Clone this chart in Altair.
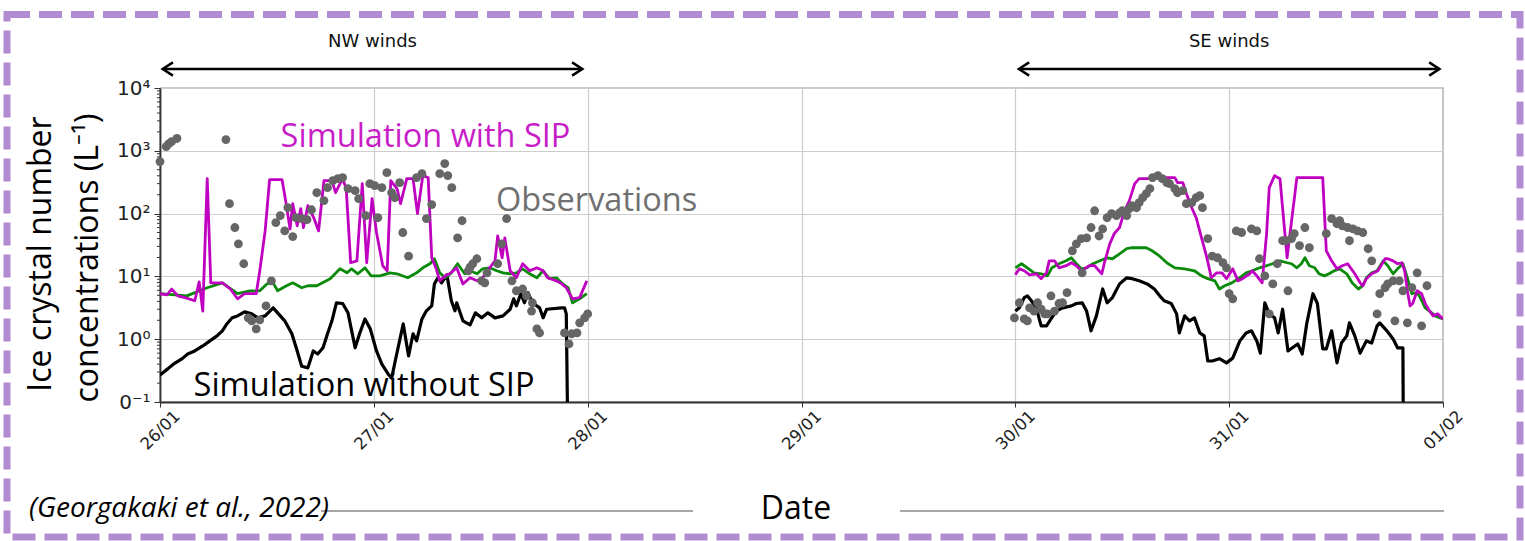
import altair as alt
import pandas as pd

# ---- axes -------------------------------------------------------------
day_ticks = [0, 24, 48, 72, 96, 120, 144]          # hours since 26/01 00:00
day_labels = ["26/01", "27/01", "28/01", "29/01", "30/01", "31/01", "01/02"]
decade_ticks = [0.1, 1, 10, 100, 1000, 10000]
decade_labels = ["0⁻¹", "10⁰", "10¹", "10²", "10³", "10⁴"]
minor_ticks = [k * 10.0 ** e for e in range(-1, 4) for k in range(2, 10)]

# ---- ice crystal number concentration (L-1), (hour, value) -------------
# simulation without SIP; the last vertex of each segment falls to zero
without_sip_a = [
    (0, 0.27), (0.9, 0.34), (1.5, 0.40), (2.5, 0.49), (3.1, 0.58), (3.9, 0.65),
    (4.8, 0.78), (5.6, 0.94), (6.4, 1.13), (7.0, 1.36), (7.5, 1.75), (8.1, 2.19),
    (8.7, 2.35), (9.5, 2.72), (10.3, 2.53), (11.0, 2.19), (11.8, 2.35), (12.7, 3.16),
    (13.2, 2.63), (14.0, 1.96), (14.8, 1.22), (15.4, 0.65), (15.9, 0.37), (16.6, 0.35),
    (17.2, 0.65), (17.7, 0.58), (18.3, 0.73), (18.8, 1.22), (19.3, 1.96), (19.8, 3.8),
    (20.5, 3.7), (21.1, 2.63), (21.9, 0.73), (22.4, 1.22), (23.0, 2.1), (23.6, 1.46),
    (24.3, 0.65), (24.9, 0.40), (25.6, 0.28), (26.0, 0.24), (26.4, 0.45), (27.3, 1.75),
    (27.9, 0.54), (28.4, 1.22), (28.8, 0.94), (29.4, 2.1), (29.9, 2.83), (30.5, 3.4),
    (30.8, 7.6), (31.2, 9.5), (31.6, 7.9), (32.2, 10.6), (32.7, 4.1), (33.1, 2.83),
    (33.3, 3.8), (34.0, 1.96), (34.8, 1.69), (35.4, 2.63), (36.1, 2.19), (36.8, 2.63),
    (37.6, 2.19), (38.5, 2.35), (39.3, 3.0), (39.7, 4.4), (40.0, 3.4), (40.5, 5.3),
    (40.9, 3.8), (41.3, 5.5), (41.8, 3.8), (42.6, 3.16), (43.0, 2.19), (43.4, 3.0),
    (45.1, 3.16), (45.4, 3.16), (45.6, 2.53), (45.9, 0.001),
]
without_sip_b = [
    (96.0, 2.8), (96.45, 3.16), (97.0, 4.6), (97.35, 4.9), (97.8, 4.1), (98.35, 3.16),
    (98.9, 1.63), (99.5, 1.63), (100.0, 2.1), (100.6, 2.8), (101.3, 3.16), (102.3, 3.4),
    (102.85, 3.7), (103.5, 3.8), (104.0, 2.8), (104.5, 1.36), (105.1, 2.35), (105.8, 6.3),
    (106.3, 3.8), (106.9, 4.6), (107.7, 7.6), (108.5, 9.5), (109.1, 9.2), (109.9, 8.5),
    (110.8, 7.6), (111.6, 6.3), (112.2, 4.9), (112.7, 4.1), (113.5, 3.7), (114.1, 2.53),
    (114.4, 1.26), (115.0, 2.35), (115.55, 1.96), (116.1, 2.19), (116.7, 1.26), (117.2, 1.13),
    (117.6, 0.45), (118.1, 0.45), (118.9, 0.49), (119.7, 0.42), (120.4, 0.50), (121.2, 0.94),
    (121.9, 1.26), (122.5, 1.36), (123.1, 0.94), (123.5, 0.60), (124.0, 3.8), (124.5, 2.53),
    (125.1, 2.19), (125.5, 1.26), (126.0, 3.0), (126.6, 0.65), (127.1, 0.73), (127.7, 0.84),
    (128.2, 0.58), (128.7, 1.75), (129.4, 5.3), (129.9, 3.7), (130.5, 0.70), (130.9, 0.70),
    (131.5, 1.36), (132.1, 0.42), (132.6, 0.87), (133.2, 1.13), (133.5, 1.82), (134.1, 1.13),
    (134.7, 0.60), (135.4, 0.94), (136.0, 0.87), (136.6, 1.63), (136.9, 1.82), (137.7, 1.36),
    (138.4, 1.01), (138.9, 0.73), (139.5, 0.73), (139.6, 0.001),
]

# simulation with SIP
with_sip_a = [
    (0, 5.3), (0.8, 5.1), (1.3, 6.3), (2.0, 4.9), (2.8, 4.6), (3.9, 4.1), (4.4, 8.2),
    (4.8, 2.8), (5.3, 360), (5.7, 7.9), (7.0, 7.9), (7.9, 6.3), (8.7, 4.4), (9.5, 5.3),
    (10.8, 5.3), (11.2, 12.3), (11.8, 53), (12.3, 347), (13.7, 347), (14.1, 161),
    (14.6, 57), (14.9, 144), (15.4, 64), (15.8, 120), (16.1, 60), (16.6, 134), (17.3, 83),
    (17.8, 53), (18.4, 335), (19.3, 335), (19.7, 215), (20.5, 360), (20.9, 250),
    (21.4, 16.5), (22.1, 17.7), (22.7, 300), (23.2, 16.5), (23.8, 173), (24.3, 50),
    (25.0, 14.8), (25.5, 12.3), (25.9, 335), (26.6, 250), (27.0, 144), (27.7, 360),
    (28.4, 360), (28.9, 100), (29.5, 402), (30.1, 374), (30.5, 19.8), (31.0, 13.2),
    (31.4, 8.5), (32.0, 10.2), (32.5, 11.0), (33.3, 13.7), (34.0, 7.6), (34.8, 9.5),
    (35.6, 8.5), (36.2, 9.5), (37.0, 13.7), (37.6, 17.7), (37.9, 44), (38.4, 19.8),
    (38.7, 41), (39.3, 12.3), (40.0, 9.5), (40.7, 15.9), (41.5, 12.3), (42.3, 13.7),
    (43.0, 12.3), (43.5, 9.5), (44.5, 8.5), (45.1, 7.6), (45.6, 6.6), (46.3, 4.4),
    (47.1, 4.6), (47.9, 8.5),
]
with_sip_b = [
    (96.0, 10.6), (96.45, 13.2), (97.0, 12.3), (97.6, 10.6), (98.35, 11.0), (98.9, 9.2),
    (99.5, 11.4), (99.8, 17.7), (100.4, 17.7), (100.9, 13.7), (101.7, 14.8), (102.3, 16.5),
    (102.85, 14.8), (103.4, 12.3), (103.75, 13.2), (104.3, 14.8), (104.9, 14.8), (105.7, 11.0),
    (106.0, 16.5), (106.6, 33), (107.1, 48), (107.7, 60), (108.25, 111), (108.8, 161),
    (109.4, 300), (109.9, 360), (110.8, 360), (111.6, 374), (112.5, 374), (113.9, 374),
    (114.2, 311), (114.8, 311), (115.2, 208), (115.8, 124), (116.3, 86), (116.9, 41),
    (117.5, 19.8), (118.0, 9.5), (118.6, 11.4), (119.2, 11.4), (119.7, 9.2), (120.4, 13.2),
    (121.0, 8.5), (121.5, 9.2), (122.3, 11.0), (122.6, 12.3), (123.1, 10.2), (123.7, 7.9),
    (124.2, 48), (124.5, 259), (125.1, 402), (125.7, 360), (126.5, 19.8), (127.6, 374),
    (128.7, 374), (129.8, 374), (130.5, 374), (130.9, 25.6), (131.5, 17.7), (132.1, 13.2),
    (132.7, 14.8), (133.3, 15.9), (134.1, 11.0), (134.7, 7.9), (135.0, 7.1), (135.4, 9.2),
    (136.0, 11.0), (136.7, 12.3), (137.5, 19.1), (137.8, 19.1), (138.4, 17.7), (138.9, 15.9),
    (139.4, 16.5), (139.7, 12.3), (140.0, 5.9), (140.3, 3.4), (140.6, 3.7), (141.1, 5.9),
    (141.6, 5.3), (142.0, 3.7), (142.5, 2.8), (142.9, 2.35), (143.4, 2.53), (144.0, 2.1),
]

# third simulation (green)
green_a = [
    (0, 5.3), (3.0, 4.9), (5.3, 6.6), (7.0, 7.9), (8.7, 5.3), (10.1, 5.9), (11.2, 5.9),
    (12.0, 7.6), (12.7, 7.9), (13.2, 5.9), (14.2, 7.1), (14.9, 7.9), (15.9, 6.6),
    (16.6, 7.1), (17.6, 7.1), (19.1, 9.2), (20.2, 13.2), (21.0, 11.4), (21.5, 13.2),
    (22.2, 11.0), (23.0, 13.7), (23.7, 10.2), (24.7, 10.2), (25.8, 11.4), (26.6, 11.0),
    (27.8, 9.5), (28.8, 11.4), (29.5, 13.7), (30.3, 15.9), (30.8, 19.1), (31.4, 11.4),
    (32.0, 9.5), (32.7, 11.4), (33.4, 15.9), (34.2, 11.0), (34.8, 12.3), (35.6, 11.0),
    (36.2, 13.2), (37.0, 13.7), (37.8, 12.3), (38.5, 11.4), (39.3, 11.0), (40.0, 11.4),
    (40.7, 13.2), (41.5, 11.0), (42.3, 9.5), (43.0, 12.3), (43.7, 9.2), (44.5, 9.5),
    (45.2, 7.6), (45.8, 6.6), (46.3, 3.8), (47.1, 4.4), (47.9, 5.3),
]
green_b = [
    (96.0, 13.7), (96.7, 15.9), (97.35, 13.7), (98.1, 11.4), (98.9, 11.0), (99.6, 10.2),
    (100.1, 13.7), (100.9, 15.9), (101.7, 17.7), (102.3, 19.8), (102.85, 15.9), (103.4, 13.2),
    (104.0, 13.7), (104.7, 15.9), (105.5, 17.7), (106.3, 19.8), (106.9, 19.1), (107.7, 22.9),
    (108.5, 27.6), (109.1, 28.6), (110.1, 28.6), (110.7, 28.6), (111.35, 25.6), (112.2, 21),
    (113.0, 16.5), (113.9, 13.7), (115.0, 13.2), (116.1, 12.3), (116.9, 10.2), (117.6, 9.2),
    (118.4, 8.5), (118.9, 6.3), (119.5, 7.1), (120.3, 7.9), (121.2, 9.5), (121.9, 11.4),
    (122.6, 12.3), (123.4, 13.7), (124.2, 14.8), (124.85, 15.9), (125.7, 17.7), (126.5, 16.5),
    (127.0, 15.9), (127.6, 13.7), (128.1, 15.9), (128.5, 19.8), (129.0, 14.8), (129.6, 13.7),
    (130.1, 11.0), (130.7, 10.2), (131.2, 11.0), (131.8, 12.3), (132.4, 13.2), (133.2, 11.0),
    (133.8, 7.9), (134.5, 6.3), (135.0, 7.1), (135.4, 9.5), (136.0, 11.4), (136.6, 12.3),
    (137.3, 17.7), (137.8, 14.8), (138.4, 11.0), (138.9, 13.2), (139.5, 15.9), (140.0, 9.5),
    (140.5, 5.3), (141.1, 5.5), (141.45, 4.6), (142.0, 3.16), (142.5, 2.8), (143.1, 2.35),
    (144.0, 2.1),
]

# observations
observed = [
    (0.0, 673), (0.7, 1170), (1.0, 1300), (1.3, 1400), (1.9, 1570), (7.4, 1510), (7.8, 144),
    (8.4, 60), (8.8, 33), (9.4, 15.9), (9.9, 2.19), (10.3, 1.96), (10.8, 1.46), (11.2, 2.03),
    (11.9, 3.4), (12.5, 8.5), (13.0, 72), (13.5, 93), (14.0, 53), (14.35, 124), (14.9, 43),
    (15.25, 86), (15.9, 83), (16.5, 80), (17.0, 115), (17.6, 215), (18.4, 161), (18.8, 259),
    (19.4, 335), (19.96, 360), (20.5, 374), (21.1, 250), (21.9, 232), (22.3, 173), (23.1, 93),
    (23.55, 300), (24.1, 279), (24.45, 86), (24.9, 259), (25.46, 449), (26.0, 215),
    (26.35, 179), (26.9, 311), (27.25, 50), (27.9, 21), (28.8, 374), (29.4, 433), (29.9, 83),
    (30.5, 139), (31.4, 433), (31.96, 625), (32.3, 402), (32.75, 259), (33.4, 41), (33.9, 77),
    (34.6, 12.3), (34.8, 14.0), (35.1, 15.9), (35.56, 19.1), (36.1, 8.5), (36.45, 7.9),
    (36.7, 11.4), (37.9, 15.9), (38.35, 33), (38.9, 83), (39.5, 8.5), (40.0, 5.9), (40.7, 6.3),
    (41.15, 4.9), (41.7, 2.8), (41.8, 3.8), (42.3, 1.46), (42.6, 1.26), (45.4, 1.26),
    (45.9, 0.84), (46.2, 1.22), (46.8, 1.26), (47.1, 1.82), (47.66, 2.19), (48.0, 2.53),
    (95.9, 2.19), (96.45, 3.8), (97.0, 2.1), (97.35, 1.96), (97.6, 3.16), (98.1, 2.8),
    (98.5, 3.8), (98.9, 3.0), (99.3, 2.53), (99.6, 2.53), (100.0, 4.9), (100.4, 2.8),
    (100.9, 3.7), (101.3, 3.8), (101.8, 5.5), (102.4, 25.6), (102.85, 33), (103.4, 40),
    (103.5, 11.4), (104.0, 41), (104.5, 60), (104.9, 111), (105.4, 44), (105.8, 57),
    (106.3, 86), (106.8, 100), (107.35, 93), (107.7, 103), (108.0, 111), (108.5, 93),
    (108.8, 120), (109.1, 134), (109.6, 124), (109.9, 149), (110.3, 179), (110.7, 208),
    (111.1, 250), (111.4, 374), (112.0, 402), (112.5, 360), (113.0, 311), (113.3, 300),
    (113.9, 250), (114.2, 215), (114.8, 232), (115.2, 144), (115.8, 149), (116.3, 179),
    (116.7, 193), (117.0, 124), (117.6, 40), (118.1, 21), (118.7, 19.8), (119.3, 16.5),
    (119.7, 13.7), (120.0, 5.3), (120.4, 4.4), (120.8, 53), (121.4, 50), (122.5, 57),
    (123.1, 53), (123.4, 19.1), (124.0, 10.2), (124.5, 2.53), (124.9, 7.6), (125.4, 15.9),
    (126.0, 37), (126.4, 37), (126.6, 5.9), (127.0, 40), (127.3, 48), (127.9, 31),
    (128.5, 60), (129.0, 28.6), (130.9, 48), (131.5, 83), (132.1, 69), (132.4, 77),
    (132.7, 64), (133.3, 60), (133.5, 37), (133.9, 57), (134.4, 53), (135.0, 50),
    (135.6, 27.6), (136.0, 17.7), (136.6, 2.53), (136.9, 5.3), (137.5, 6.6), (137.8, 7.6),
    (138.4, 8.5), (138.6, 1.96), (139.1, 8.5), (139.5, 5.9), (140.0, 1.82), (140.5, 6.6),
    (141.1, 11.4), (141.6, 1.63), (142.2, 7.1),
]

# wind regimes (start hour, end hour)
wind_names = ["NW winds", "SE winds"]
wind_start = [0.3, 96.4]
wind_end = [47.4, 143.6]

# in-plot labels: text, hour, concentration, colour
label_text = ["Simulation with SIP", "Observations", "Simulation without SIP"]
label_hour = [29.8, 49.0, 22.9]
label_conc = [1680, 161, 0.18]
label_color = ["#C81EC8", "#707070", "#000000"]


def frame(pairs, segment):
    return pd.DataFrame({"hour": [p[0] for p in pairs],
                         "conc": [p[1] for p in pairs],
                         "segment": segment})


W, H = 1283, 314

x_enc = alt.X(
    "hour:Q",
    title=None,
    scale=alt.Scale(domain=[0, 144], nice=False, zero=False),
    axis=alt.Axis(
        values=day_ticks,
        labelExpr="[" + ",".join(f"'{d}'" for d in day_labels) + "][datum.value / 24]",
        labelAngle=-45, labelAlign="center", labelBaseline="middle", labelPadding=23,
        labelFont="DejaVu Sans", labelFontSize=16.5, labelColor="#222",
        tickSize=5, tickColor="#333", domainColor="#333", domainWidth=1.8,
        grid=True, gridColor="#cdcdcd", gridWidth=1.2,
    ),
)
y_enc = alt.Y(
    "conc:Q",
    title=None,
    scale=alt.Scale(type="log", domain=[0.1, 10000], nice=False),
    axis=alt.Axis(
        values=decade_ticks,
        labelExpr="[" + ",".join(f"'{d}'" for d in decade_labels) + "][round(log(datum.value) / LN10) + 1]",
        labelFont="DejaVu Sans", labelFontSize=20, labelColor="#222", labelPadding=4,
        tickSize=6, tickColor="#333", domainColor="#333", domainWidth=1.8,
        grid=True, gridColor="#cdcdcd", gridWidth=1.2,
    ),
)

one = pd.DataFrame({"k": [0]})


def series_line(pairs_list, color, width):
    df = pd.concat([frame(p, i) for i, p in enumerate(pairs_list)], ignore_index=True)
    return alt.Chart(df).mark_line(color=color, strokeWidth=width, clip=True,
                                   strokeJoin="round").encode(
        x=x_enc, y=y_enc, detail="segment:N")


black_line = series_line([without_sip_a, without_sip_b], "#000000", 3.2)
green_line = series_line([green_a, green_b], "#0A8A0A", 2.8)
magenta_line = series_line([with_sip_a, with_sip_b], "#C000C0", 2.8)

dots = alt.Chart(frame(observed, 0)).mark_circle(
    size=78, color="#666666", opacity=1).encode(x=x_enc, y=y_enc)

minor = alt.Chart(pd.DataFrame({"conc": minor_ticks})).mark_rule(
    color="#333", strokeWidth=1).encode(y=y_enc, x=alt.value(-3), x2=alt.value(0))

labels_df = pd.DataFrame({"text": label_text, "hour": label_hour,
                          "conc": label_conc, "color": label_color})
labels = alt.Chart(labels_df).mark_text(
    font="Open Sans", fontSize=32.5, align="center", baseline="middle").encode(
    x=x_enc, y=y_enc, text="text:N", color=alt.Color("color:N", scale=None))

winds = pd.DataFrame({"name": wind_names, "start": wind_start, "end": wind_end})
winds["mid"] = (winds["start"] + winds["end"]) / 2
wind_x_scale = alt.Scale(domain=[0, 144], nice=False, zero=False)
wind_rule = alt.Chart(winds).mark_rule(color="#000", strokeWidth=2.5).encode(
    x=alt.X("start:Q", scale=wind_x_scale), x2="end:Q", y=alt.value(-19))
head_left = alt.Chart(winds).mark_point(
    shape="M 1 -0.65 L 0 0 L 1 0.65", size=420, filled=False, color="#000",
    strokeWidth=2.5, opacity=1).encode(
    x=alt.X("start:Q", scale=wind_x_scale), y=alt.value(-19))
head_right = alt.Chart(winds).mark_point(
    shape="M -1 -0.65 L 0 0 L -1 0.65", size=420, filled=False, color="#000",
    strokeWidth=2.5, opacity=1).encode(
    x=alt.X("end:Q", scale=wind_x_scale), y=alt.value(-19))
wind_text = alt.Chart(winds).mark_text(
    font="DejaVu Sans", fontSize=18, color="#111", baseline="middle").encode(
    x=alt.X("mid:Q", scale=wind_x_scale), y=alt.value(-46), text="name:N")

# y-axis title, two rotated lines
ytitle1 = alt.Chart(one).mark_text(
    font="Open Sans", fontSize=32, angle=270, align="center", baseline="middle",
    color="#000").encode(x=alt.value(-119), y=alt.value(166),
                         text=alt.value("Ice crystal number"))
ytitle2 = alt.Chart(one).mark_text(
    font="Open Sans", fontSize=32, angle=270, align="center", baseline="middle",
    color="#000").encode(x=alt.value(-72), y=alt.value(170),
                         text=alt.value("concentrations (L⁻¹)"))

# x title with side rules and the citation
xtitle = alt.Chart(one).mark_text(
    font="Open Sans", fontSize=32, align="center", baseline="middle",
    color="#000").encode(x=alt.value(636), y=alt.value(421), text=alt.value("Date"))
rule_l = alt.Chart(one).mark_rule(color="#8a8a8a", strokeWidth=1.5).encode(
    x=alt.value(161), x2=alt.value(533), y=alt.value(423))
rule_r = alt.Chart(one).mark_rule(color="#8a8a8a", strokeWidth=1.5).encode(
    x=alt.value(740), x2=alt.value(1284), y=alt.value(423))
citation = alt.Chart(one).mark_text(
    font="Open Sans", fontSize=28, fontStyle="italic", align="left", baseline="middle",
    color="#000").encode(x=alt.value(-131), y=alt.value(421),
                         text=alt.value("(Georgakaki et al., 2022)"))

# dashed frame around the whole figure
border = alt.Chart(one).mark_rect(
    fill="#ffffff", fillOpacity=0, stroke="#B28CD2", strokeWidth=7,
    strokeDash=[23, 9]).encode(
    x=alt.value(-153), x2=alt.value(1360), y=alt.value(-73.5), y2=alt.value(449))

chart = alt.layer(
    minor, black_line, green_line, magenta_line, dots, labels,
    wind_rule, head_left, head_right, wind_text,
    ytitle1, ytitle2, xtitle, rule_l, rule_r, citation, border,
).properties(
    width=W, height=H,
    autosize=alt.AutoSizeParams(type="none"),
    padding={"left": 160, "top": 88, "right": 82, "bottom": 139},
    background="#ffffff",
).configure_view(stroke="#333333", strokeWidth=1.2)

chart.save("out.html", embed_options={"renderer": "svg", "actions": False})
